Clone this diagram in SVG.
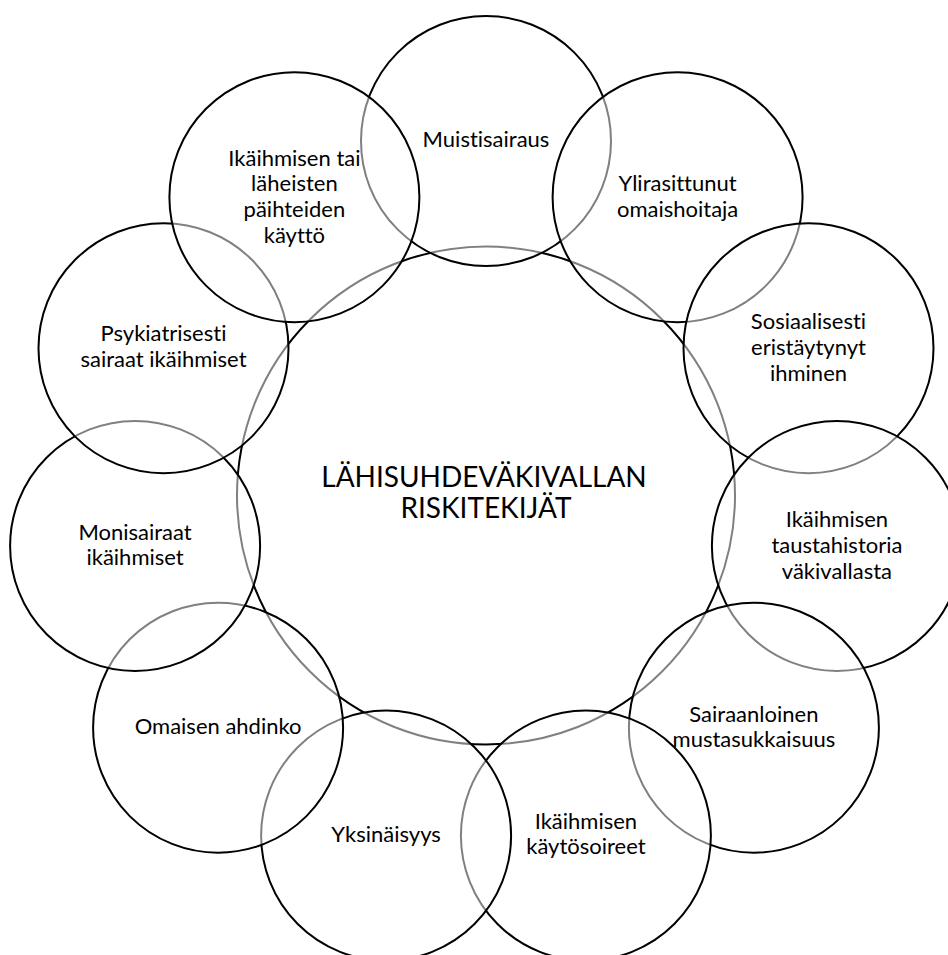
<svg xmlns="http://www.w3.org/2000/svg" width="948" height="955" viewBox="0 0 948 955">
<style>
.c{fill:#fff;fill-opacity:0.5;stroke:#000;stroke-width:2}
.t{font-family:Lato,"Liberation Sans",sans-serif;font-size:22px;fill:#000;text-anchor:middle;font-variant-ligatures:none}
.h{font-family:Lato,"Liberation Sans",sans-serif;font-size:28px;fill:#000;text-anchor:middle;font-variant-ligatures:none}
</style>
<rect width="948" height="955" fill="#fff"/>
<g id="connectors"></g>
<g id="center">
<circle class="c" cx="486" cy="495.5" r="249"/>
<text class="h" x="484" y="487">LÄHISUHDEVÄKIVALLAN</text>
<text class="h" x="486" y="518">RISKITEKIJÄT</text>
</g>
<g id="muistisairaus">
<circle class="c" cx="486" cy="141" r="125"/>
<text class="t" x="486" y="147">Muistisairaus</text>
</g>
<g id="ylirasittunut">
<circle class="c" cx="677.6" cy="197.2" r="125"/>
<text class="t" x="677.6" y="190.5">Ylirasittunut</text>
<text class="t" x="677.6" y="216.5">omaishoitaja</text>
</g>
<g id="sosiaalisesti">
<circle class="c" cx="808.5" cy="348.2" r="125"/>
<text class="t" x="808.5" y="329">Sosiaalisesti</text>
<text class="t" x="808.5" y="355">eristäytynyt</text>
<text class="t" x="808.5" y="381">ihminen</text>
</g>
<g id="taustahistoria">
<circle class="c" cx="836.9" cy="545.9" r="125"/>
<text class="t" x="836.9" y="526.5">Ikäihmisen</text>
<text class="t" x="836.9" y="552.5">taustahistoria</text>
<text class="t" x="836.9" y="578.5">väkivallasta</text>
</g>
<g id="mustasukkaisuus">
<circle class="c" cx="753.9" cy="727.7" r="125"/>
<text class="t" x="753.9" y="721.5">Sairaanloinen</text>
<text class="t" x="753.9" y="747">mustasukkaisuus</text>
</g>
<g id="kaytosoireet">
<circle class="c" cx="585.9" cy="835.6" r="125"/>
<text class="t" x="585.9" y="828.5">Ikäihmisen</text>
<text class="t" x="585.9" y="854">käytösoireet</text>
</g>
<g id="yksinaisyys">
<circle class="c" cx="386.1" cy="835.6" r="125"/>
<text class="t" x="386.1" y="841.5">Yksinäisyys</text>
</g>
<g id="ahdinko">
<circle class="c" cx="218.1" cy="727.7" r="125"/>
<text class="t" x="218.1" y="733.5">Omaisen ahdinko</text>
</g>
<g id="monisairaat">
<circle class="c" cx="135.1" cy="545.9" r="125"/>
<text class="t" x="135.1" y="540">Monisairaat</text>
<text class="t" x="135.1" y="565">ikäihmiset</text>
</g>
<g id="psykiatrisesti">
<circle class="c" cx="163.5" cy="348.2" r="125"/>
<text class="t" x="163.5" y="341">Psykiatrisesti</text>
<text class="t" x="163.5" y="366.5">sairaat ikäihmiset</text>
</g>
<g id="paihteet">
<circle class="c" cx="294.4" cy="197.2" r="125"/>
<text class="t" x="294.4" y="165.5">Ikäihmisen tai</text>
<text class="t" x="294.4" y="191">läheisten</text>
<text class="t" x="294.4" y="217">päihteiden</text>
<text class="t" x="294.4" y="243">käyttö</text>
</g>
</svg>
